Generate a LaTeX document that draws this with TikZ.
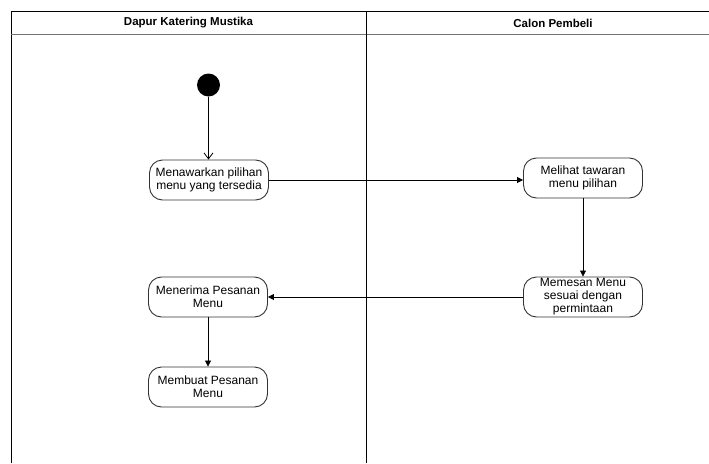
\documentclass[tikz,border=0pt]{standalone}
\usepackage{fontspec}
\setmainfont{Liberation Sans}
\usepackage{tikz}
\usetikzlibrary{arrows.meta}

\tikzset{
  act/.style={draw=black!80, line width=0.9pt, rounded corners=13pt, fill=white,
    minimum width=119pt, minimum height=40pt, inner sep=0pt, align=center,
    font=\fontsize{12}{13}\selectfont},
  lane/.style={line width=1pt},
  flow/.style={line width=0.8pt, -{Triangle[length=6pt,width=6pt]}},
  startflow/.style={line width=0.8pt, -{Straight Barb[length=6pt,width=9pt]}},
  hdr/.style={font=\fontsize{11.5}{13}\selectfont\bfseries}
}

\begin{document}
\begin{tikzpicture}[x=1pt,y=-1pt]
          \useasboundingbox (0,0) rectangle (709,463);
          % swimlanes
          \draw[lane] (11,463) -- (11,11) -- (709,11);
          \draw[line width=1pt,black!55] (11,34) -- (709,34);
          \draw[lane] (366,11) -- (366,463);
          \node[hdr] (dapur) at (188.5,23) {Dapur Katering Mustika};
          \node[hdr] (calon) at (553,23) {Calon Pembeli};
          % start
          \node[circle, fill=black, minimum size=23pt, inner sep=0pt] (mulai) at (208.5,85) {};
          % activities
          \node[act] (tawar) at (209,180)  {Menawarkan pilihan\\menu yang tersedia};
          \node[act] (lihat) at (583,178)  {Melihat tawaran\\menu pilihan};
          \node[act] (pesan) at (583,297)  {Memesan Menu\\sesuai dengan\\permintaan};
          \node[act] (terima) at (208,297) {Menerima Pesanan\\Menu};
          \node[act] (buat) at (208,387)   {Membuat Pesanan\\Menu};
          % flows
          \draw[startflow] (mulai) -- (mulai |- tawar.north);
          \draw[flow] (tawar.east) -- (tawar.east -| lihat.west);
          \draw[flow] (lihat) -- (pesan);
          \draw[flow] (pesan) -- (terima);
          \draw[flow] (terima) -- (buat);
        \end{tikzpicture}
\end{document}
